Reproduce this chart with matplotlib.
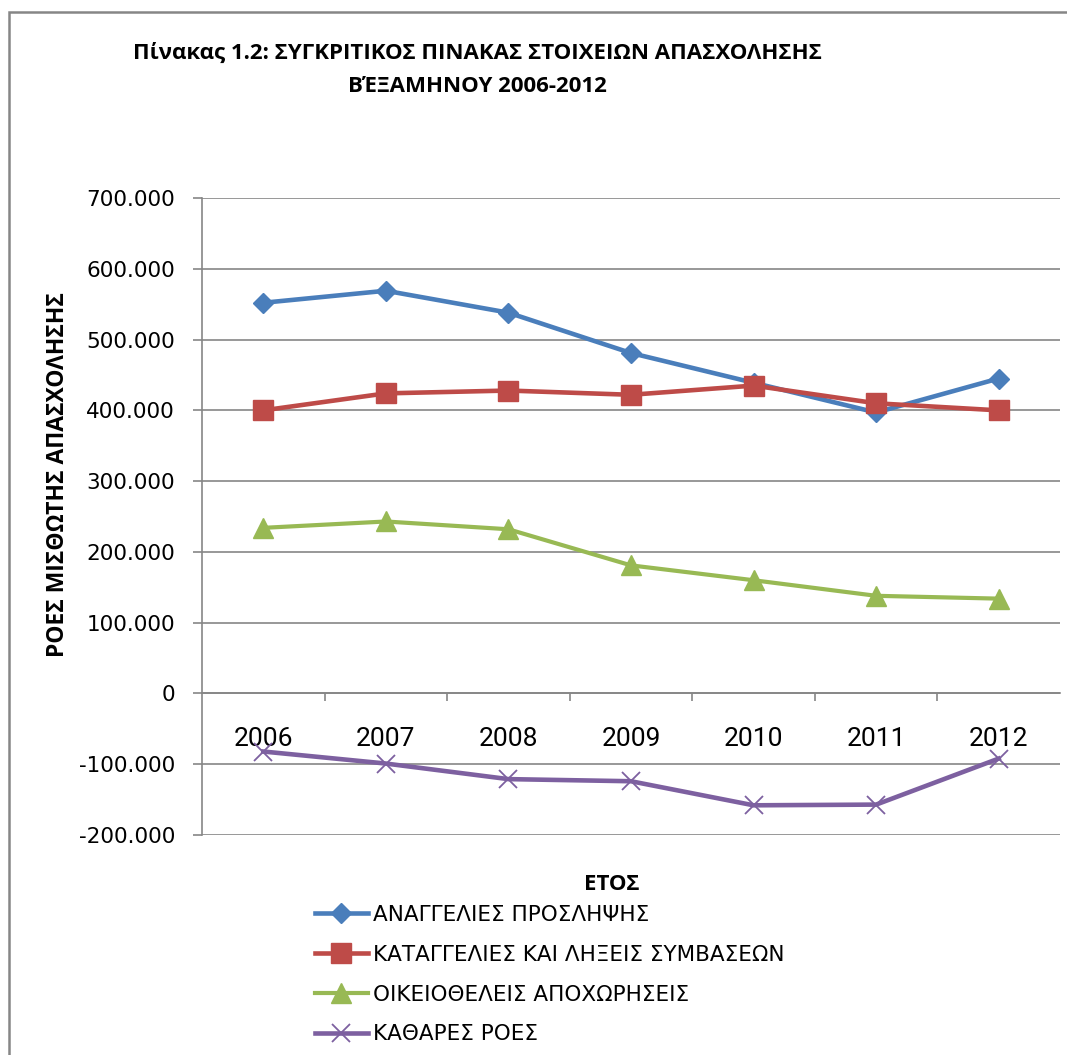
import matplotlib
matplotlib.use("Agg")
import matplotlib.pyplot as plt
from matplotlib.patches import Rectangle
from matplotlib.ticker import FuncFormatter, FixedLocator

years = ["2006", "2007", "2008", "2009", "2010", "2011", "2012"]
proslipseis = [552000, 569000, 538000, 481000, 439000, 397000, 445000]
katangelies = [400000, 424000, 428000, 422000, 435000, 410000, 400000]
apoxoriseis = [234000, 243000, 232000, 181000, 160000, 138000, 134000]
kathares = [-82000, -99000, -121000, -124000, -158000, -157000, -92000]

series_names = ["ΑΝΑΓΓΕΛΙΕΣ ΠΡΟΣΛΗΨΗΣ",
                "ΚΑΤΑΓΓΕΛΙΕΣ ΚΑΙ ΛΗΞΕΙΣ ΣΥΜΒΑΣΕΩΝ",
                "ΟΙΚΕΙΟΘΕΛΕΙΣ ΑΠΟΧΩΡΗΣΕΙΣ",
                "ΚΑΘΑΡΕΣ ΡΟΕΣ"]
y_ticks = [-200000, -100000, 0, 100000, 200000, 300000, 400000, 500000, 600000, 700000]

GRID = "#868686"

fig = plt.figure(figsize=(10.67, 10.55), dpi=100)
ax = fig.add_axes([0.1893, 0.2085, 0.8041, 0.6038])

x = list(range(len(years)))
ax.plot(x, proslipseis, color="#4A7EBB", lw=3.3, marker="D", ms=10.5,
        mec="#4A7EBB", label=series_names[0], zorder=4)
ax.plot(x, katangelies, color="#BE4B48", lw=3.3, marker="s", ms=14,
        mec="#BE4B48", label=series_names[1], zorder=5)
ax.plot(x, apoxoriseis, color="#98B954", lw=3.0, marker="^", ms=14,
        mec="#98B954", label=series_names[2], zorder=4)
ax.plot(x, kathares, color="#7D60A0", lw=3.3, marker="x", ms=13, mew=1.3,
        mec="#7D60A0", label=series_names[3], zorder=4)

ax.set_xlim(-0.5, len(years) - 0.5)
ax.set_ylim(y_ticks[0], y_ticks[-1])
ax.yaxis.set_major_locator(FixedLocator(y_ticks))
ax.yaxis.set_major_formatter(FuncFormatter(lambda v, p: f"{int(v):,}".replace(",", ".")))
ax.grid(axis="y", color=GRID, lw=1.2, zorder=0)
ax.set_axisbelow(True)

for s in ["top", "right"]:
    ax.spines[s].set_visible(False)
ax.spines["left"].set_color(GRID)
ax.spines["left"].set_linewidth(1.2)
ax.spines["bottom"].set_position(("data", 0))
ax.spines["bottom"].set_color(GRID)
ax.spines["bottom"].set_linewidth(1.2)

ax.set_xticks(x)
ax.set_xticklabels(years)
ax.set_xticks([i + 0.5 for i in x[:-1]], minor=True)
ax.tick_params(axis="x", which="major", length=0, pad=24)
ax.tick_params(axis="x", which="minor", length=6, color=GRID, width=1.2, direction="out")
ax.tick_params(axis="y", length=6.5, color=GRID, width=1.2, pad=13)
for t in ax.get_xticklabels():
    t.set_family(["Liberation Sans Narrow", "Roboto", "DejaVu Sans"])
    t.set_fontsize(19)
for t in ax.get_yticklabels():
    t.set_family("DejaVu Sans")
    t.set_fontsize(15.5)

# τίτλος και ετικέτες αξόνων
title_font = dict(family="Open Sans", weight="bold", fontsize=16, ha="center", va="center")
fig.text(477 / 1067, 1 - 53 / 1055,
         "Πίνακας 1.2: ΣΥΓΚΡΙΤΙΚΟΣ ΠΙΝΑΚΑΣ ΣΤΟΙΧΕΙΩΝ ΑΠΑΣΧΟΛΗΣΗΣ", **title_font)
fig.text(477 / 1067, 1 - 87 / 1055, "ΒΈΞΑΜΗΝΟΥ 2006-2012", **title_font)
fig.text(58 / 1067, 1 - 475 / 1055, "ΡΟΕΣ ΜΙΣΘΩΤΗΣ ΑΠΑΣΧΟΛΗΣΗΣ", rotation=90,
         family="Open Sans", weight="bold", fontsize=16.5, ha="center", va="center")
fig.text(612 / 1067, 1 - 884 / 1055, "ΕΤΟΣ", family="Open Sans", weight="bold",
         fontsize=16, ha="center", va="center")

fig.legend(loc="upper left", bbox_to_anchor=(315 / 1067, 1 - 905 / 1055),
           frameon=False, borderpad=0, borderaxespad=0, handlelength=2.45,
           handletextpad=0.25, labelspacing=0.92,
           prop=dict(family="DejaVu Sans", size=15.5))

# πλαίσιο γραφήματος
fig.patches.append(Rectangle((9 / 1067, -0.1), 1.2, 0.1 + 1 - 12 / 1055,
                             transform=fig.transFigure, fill=False,
                             edgecolor=GRID, lw=1.8))

fig.savefig("out.png", dpi=100, facecolor="white")
